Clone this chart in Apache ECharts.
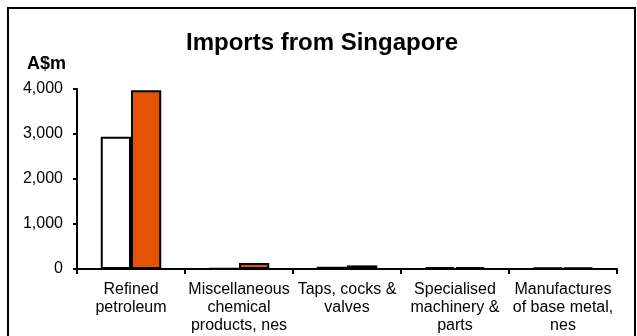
<!DOCTYPE html>
<html>
<head>
<meta charset="utf-8">
<script src="https://cdn.jsdelivr.net/npm/echarts@6/dist/echarts.min.js"></script>
<style>
html,body{margin:0;padding:0;background:#fff;}
#chart{width:637px;height:336px;}
</style>
</head>
<body>
<div id="chart"></div>
<script>
const categories = ["Refined\npetroleum", "Miscellaneous\nchemical\nproducts, nes", "Taps, cocks &\nvalves", "Specialised\nmachinery &\nparts", "Manufactures\nof base metal,\nnes"];
const seriesNames = ["Previous year", "Latest year"];
const valuesA = [2940, 10, 50, 40, 30];
const valuesB = [3970, 135, 80, 40, 30];
const yTicks = [0, 1000, 2000, 3000, 4000];

const chart = echarts.init(document.getElementById('chart'), null, {renderer: 'canvas'});
const fontFam = 'Liberation Sans, Arial, sans-serif';
chart.setOption({
  animation: false,
  backgroundColor: '#fff',
  graphic: [{
    type: 'rect',
    shape: {x: 8, y: 8, width: 627, height: 340},
    style: {fill: 'none', stroke: '#000', lineWidth: 2},
    z: 100
  }],
  title: {
    text: 'Imports from Singapore',
    left: 322, top: 31, textAlign: 'center', padding: 0,
    textStyle: {fontFamily: fontFam, fontWeight: 'bold', fontSize: 24, color: '#000'}
  },
  grid: {left: 77, right: 20, top: 89, bottom: 67, containLabel: false},
  xAxis: {
    type: 'category',
    data: categories,
    axisLine: {lineStyle: {color: '#000', width: 2}},
    axisTick: {show: true, alignWithLabel: false, length: 5, lineStyle: {color: '#000', width: 2}},
    axisLabel: {interval: 0, fontFamily: fontFam, fontSize: 16, color: '#000', lineHeight: 18, margin: 12}
  },
  yAxis: {
    type: 'value',
    min: 0, max: 4000, interval: 1000,
    name: 'A$m',
    nameLocation: 'end',
    nameGap: 16,
    nameTextStyle: {fontFamily: fontFam, fontWeight: 'bold', fontSize: 18, color: '#000', align: 'right', padding: [0, 11, 0, 0]},
    axisLine: {show: true, lineStyle: {color: '#000', width: 2}},
    axisTick: {show: true, length: 4, lineStyle: {color: '#000', width: 2}},
    splitLine: {show: false},
    axisLabel: {
      fontFamily: fontFam, fontSize: 16, color: '#000', margin: 14,
      formatter: v => yTicks.includes(v) ? v.toLocaleString('en-US') : ''
    }
  },
  series: [
    {
      name: seriesNames[0], type: 'bar', data: valuesA,
      barGap: '0%', barCategoryGap: '44%',
      itemStyle: {color: '#ffffff', borderColor: '#000', borderWidth: 2}
    },
    {
      name: seriesNames[1], type: 'bar', data: valuesB,
      itemStyle: {color: '#E35205', borderColor: '#000', borderWidth: 2}
    }
  ]
});
</script>
</body>
</html>
